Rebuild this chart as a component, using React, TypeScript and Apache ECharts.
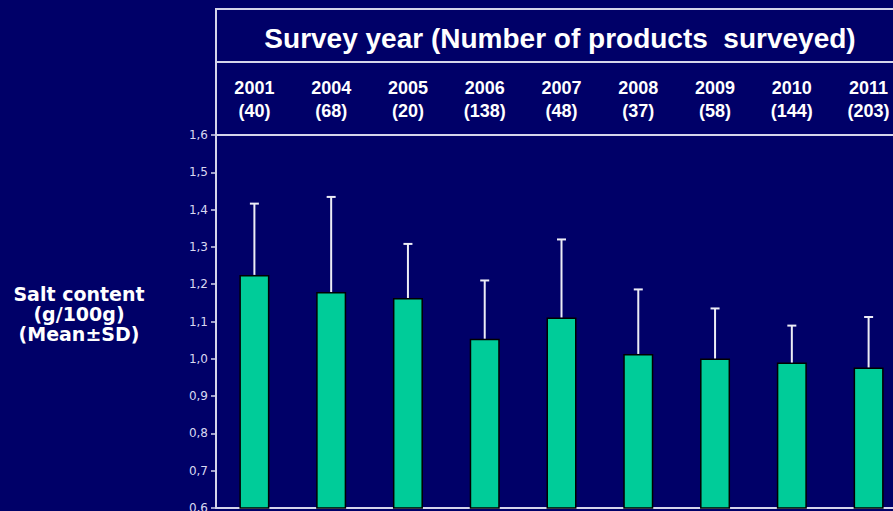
import React, { useEffect, useRef } from "react";
import * as echarts from "echarts";

const years = ["2001", "2004", "2005", "2006", "2007", "2008", "2009", "2010", "2011"];
const counts = [40, 68, 20, 138, 48, 37, 58, 144, 203];
const means = [1.225, 1.179, 1.163, 1.054, 1.111, 1.013, 1.001, 0.99, 0.977];
const sds = [0.191, 0.255, 0.145, 0.156, 0.209, 0.173, 0.134, 0.099, 0.135];
const yTicks = { min: 0.6, max: 1.6, interval: 0.1 };
const titleText = "Survey year (Number of products  surveyed)";
const yTitleLines = ["Salt content", "(g/100g)", "(Mean±SD)"];

const BG = "#000068";
const LINE = "#d4d4ea";

export default function App() {
  const ref = useRef<HTMLDivElement>(null);
  useEffect(() => {
    if (!ref.current) return;
    const chart = echarts.init(ref.current, null, { renderer: "svg" });
    const errData = means.map((m, i) => [i, m, sds[i]]);
    chart.setOption({
      animation: false,
      backgroundColor: BG,
      grid: {
        left: 216,
        top: 135,
        height: 373,
        width: 691,
        containLabel: false,
        outerBoundsMode: "none",
      },
      xAxis: [
        {
          type: "category",
          data: years,
          position: "bottom",
          axisLine: { show: true, lineStyle: { color: LINE, width: 2 } },
          axisTick: { show: false },
          axisLabel: { show: false },
        },
        {
          type: "category",
          data: years,
          position: "top",
          axisLine: { show: true, lineStyle: { color: LINE, width: 2 } },
          axisTick: { show: false },
          axisLabel: {
            show: true,
            interval: 0,
            margin: 13,
            color: "#ffffff",
            fontSize: 18,
            fontWeight: "bold",
            fontFamily: "Liberation Sans",
            lineHeight: 23,
            formatter: (v: string, i: number) => `${v}\n(${counts[i]})`,
          },
        },
      ],
      yAxis: {
        type: "value",
        min: yTicks.min,
        max: yTicks.max,
        interval: yTicks.interval,
        axisLine: { show: true, lineStyle: { color: LINE, width: 2 } },
        axisTick: { show: true, length: 5, lineStyle: { color: LINE, width: 1.5 } },
        splitLine: { show: false },
        axisLabel: {
          color: "#d8d8f0",
          fontSize: 12,
          fontFamily: "DejaVu Sans",
          margin: 8,
          formatter: (v: number) => v.toFixed(1).replace(".", ","),
        },
      },
      series: [
        {
          type: "bar",
          xAxisIndex: 0,
          data: means,
          barWidth: 30,
          itemStyle: { color: "#00CC99", borderColor: "#000000", borderWidth: 1.5 },
          z: 2,
        },
        {
          type: "custom",
          xAxisIndex: 0,
          data: errData,
          encode: { x: 0, y: 1 },
          z: 3,
          renderItem: (params: any, api: any) => {
            const i = api.value(0);
            const m = api.value(1);
            const s = api.value(2);
            const p0 = api.coord([i, m]);
            const p1 = api.coord([i, m + s]);
            const style = { stroke: "#ececf6", lineWidth: 2 };
            return {
              type: "group",
              children: [
                { type: "line", shape: { x1: p0[0], y1: p0[1], x2: p1[0], y2: p1[1] }, style },
                { type: "line", shape: { x1: p1[0] - 4.5, y1: p1[1], x2: p1[0] + 4.5, y2: p1[1] }, style },
              ],
            };
          },
        },
      ],
      graphic: [
        { type: "line", shape: { x1: 215, y1: 9, x2: 893, y2: 9 }, style: { stroke: LINE, lineWidth: 2 } },
        { type: "line", shape: { x1: 215, y1: 62, x2: 893, y2: 62 }, style: { stroke: LINE, lineWidth: 2 } },
        { type: "line", shape: { x1: 216, y1: 8, x2: 216, y2: 136 }, style: { stroke: LINE, lineWidth: 2 } },
        {
          type: "text",
          x: 560,
          y: 38,
          style: {
            text: titleText,
            fill: "#ffffff",
            fontSize: 28,
            fontWeight: "bold",
            fontFamily: "Liberation Sans",
            textAlign: "center",
            textVerticalAlign: "middle",
          },
        },
        ...yTitleLines.map((t, k) => ({
          type: "text",
          x: 79,
          y: 294 + k * 20,
          style: {
            text: t,
            fill: "#ffffff",
            fontSize: 19,
            fontWeight: "bold",
            fontFamily: "DejaVu Sans",
            textAlign: "center",
            textVerticalAlign: "middle",
          },
        })),
      ],
    });
    return () => chart.dispose();
  }, []);
  return (
    <div
      ref={ref}
      style={{ position: "absolute", left: 0, top: 0, width: 893, height: 511 }}
    />
  );
}
